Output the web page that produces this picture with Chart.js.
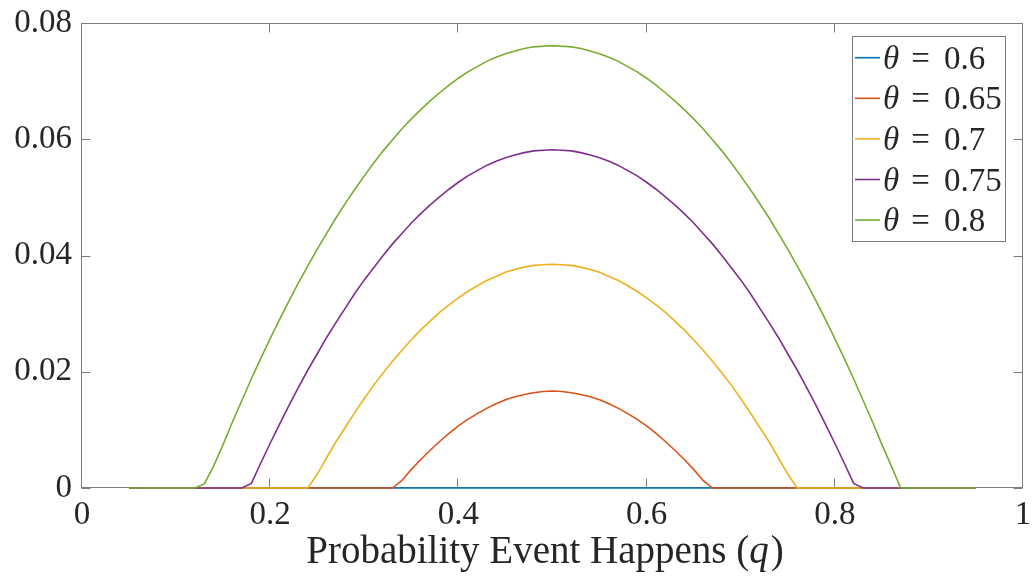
<!DOCTYPE html>
<html>
<head>
<meta charset="utf-8">
<script src="https://cdn.jsdelivr.net/npm/chart.js@4"></script>
<style>
  html, body { margin: 0; padding: 0; background: #fff; }
  #wrap { width: 1034px; height: 585px; }
</style>
</head>
<body>
<div id="wrap"><canvas id="probChart" width="1034" height="585"></canvas></div>
<script>
// q grid (probability event happens)
const qValues = [
  0.05, 0.06, 0.07, 0.08, 0.09, 0.10, 0.11, 0.12, 0.13, 0.14,
  0.15, 0.16, 0.17, 0.18, 0.19, 0.20, 0.21, 0.22, 0.23, 0.24,
  0.25, 0.26, 0.27, 0.28, 0.29, 0.30, 0.31, 0.32, 0.33, 0.34,
  0.35, 0.36, 0.37, 0.38, 0.39, 0.40, 0.41, 0.42, 0.43, 0.44,
  0.45, 0.46, 0.47, 0.48, 0.49, 0.50, 0.51, 0.52, 0.53, 0.54,
  0.55, 0.56, 0.57, 0.58, 0.59, 0.60, 0.61, 0.62, 0.63, 0.64,
  0.65, 0.66, 0.67, 0.68, 0.69, 0.70, 0.71, 0.72, 0.73, 0.74,
  0.75, 0.76, 0.77, 0.78, 0.79, 0.80, 0.81, 0.82, 0.83, 0.84,
  0.85, 0.86, 0.87, 0.88, 0.89, 0.90, 0.91, 0.92, 0.93, 0.94,
  0.95
];

const theta060 = [
  0, 0, 0, 0, 0, 0, 0, 0, 0, 0,
  0, 0, 0, 0, 0, 0, 0, 0, 0, 0,
  0, 0, 0, 0, 0, 0, 0, 0, 0, 0,
  0, 0, 0, 0, 0, 0, 0, 0, 0, 0,
  0, 0, 0, 0, 0, 0, 0, 0, 0, 0,
  0, 0, 0, 0, 0, 0, 0, 0, 0, 0,
  0, 0, 0, 0, 0, 0, 0, 0, 0, 0,
  0, 0, 0, 0, 0, 0, 0, 0, 0, 0,
  0, 0, 0, 0, 0, 0, 0, 0, 0, 0,
  0
];

const theta065 = [
  0, 0, 0, 0, 0, 0, 0, 0, 0, 0,
  0, 0, 0, 0, 0, 0, 0, 0, 0, 0,
  0, 0, 0, 0, 0, 0, 0, 0, 0, 0.0013,
  0.0032, 0.0049, 0.0065, 0.0080, 0.0094, 0.0107, 0.0118, 0.0128, 0.0137, 0.0145,
  0.0152, 0.0157, 0.0161, 0.0164, 0.0166, 0.0167, 0.0166, 0.0164, 0.0161, 0.0157,
  0.0152, 0.0145, 0.0137, 0.0128, 0.0118, 0.0107, 0.0094, 0.0080, 0.0065, 0.0049,
  0.0032, 0.0013, 0, 0, 0, 0, 0, 0, 0, 0,
  0, 0, 0, 0, 0, 0, 0, 0, 0, 0,
  0, 0, 0, 0, 0, 0, 0, 0, 0, 0,
  0
];

const theta070 = [
  0, 0, 0, 0, 0, 0, 0, 0, 0, 0,
  0, 0, 0, 0, 0, 0, 0, 0, 0, 0,
  0.0024, 0.0052, 0.0080, 0.0105, 0.0130, 0.0154, 0.0177, 0.0198, 0.0218, 0.0237,
  0.0255, 0.0272, 0.0287, 0.0302, 0.0315, 0.0327, 0.0338, 0.0348, 0.0357, 0.0364,
  0.0371, 0.0376, 0.0380, 0.0383, 0.0384, 0.0385, 0.0384, 0.0383, 0.0380, 0.0376,
  0.0371, 0.0364, 0.0357, 0.0348, 0.0338, 0.0327, 0.0315, 0.0302, 0.0287, 0.0272,
  0.0255, 0.0237, 0.0218, 0.0198, 0.0177, 0.0154, 0.0130, 0.0105, 0.0080, 0.0052,
  0.0024, 0, 0, 0, 0, 0, 0, 0, 0, 0,
  0, 0, 0, 0, 0, 0, 0, 0, 0, 0,
  0
];

const theta075 = [
  0, 0, 0, 0, 0, 0, 0, 0, 0, 0,
  0, 0, 0, 0.0008, 0.0043, 0.0077, 0.0110, 0.0142, 0.0173, 0.0203,
  0.0231, 0.0259, 0.0285, 0.0310, 0.0335, 0.0358, 0.0379, 0.0400, 0.0420, 0.0438,
  0.0456, 0.0472, 0.0487, 0.0501, 0.0514, 0.0526, 0.0537, 0.0546, 0.0555, 0.0562,
  0.0568, 0.0573, 0.0577, 0.0580, 0.0581, 0.0582, 0.0581, 0.0580, 0.0577, 0.0573,
  0.0568, 0.0562, 0.0555, 0.0546, 0.0537, 0.0526, 0.0514, 0.0501, 0.0487, 0.0472,
  0.0456, 0.0438, 0.0420, 0.0400, 0.0379, 0.0358, 0.0335, 0.0310, 0.0285, 0.0259,
  0.0231, 0.0203, 0.0173, 0.0142, 0.0110, 0.0077, 0.0043, 0.0008, 0, 0,
  0, 0, 0, 0, 0, 0, 0, 0, 0, 0,
  0
];

const theta080 = [
  0, 0, 0, 0, 0, 0, 0, 0, 0.0007, 0.0038,
  0.0075, 0.0114, 0.0151, 0.0188, 0.0223, 0.0257, 0.0290, 0.0322, 0.0353, 0.0382,
  0.0411, 0.0438, 0.0465, 0.0490, 0.0514, 0.0537, 0.0559, 0.0580, 0.0599, 0.0618,
  0.0635, 0.0651, 0.0666, 0.0680, 0.0693, 0.0705, 0.0716, 0.0725, 0.0734, 0.0741,
  0.0747, 0.0752, 0.0756, 0.0759, 0.0760, 0.0761, 0.0760, 0.0759, 0.0756, 0.0752,
  0.0747, 0.0741, 0.0734, 0.0725, 0.0716, 0.0705, 0.0693, 0.0680, 0.0666, 0.0651,
  0.0635, 0.0618, 0.0599, 0.0580, 0.0559, 0.0537, 0.0514, 0.0490, 0.0465, 0.0438,
  0.0411, 0.0382, 0.0353, 0.0322, 0.0290, 0.0257, 0.0223, 0.0188, 0.0151, 0.0114,
  0.0075, 0.0038, 0, 0, 0, 0, 0, 0, 0, 0,
  0
];

const thetaLabels = ['0.6', '0.65', '0.7', '0.75', '0.8'];
const seriesValues = [theta060, theta065, theta070, theta075, theta080];
const lineColors = ['#0072BD', '#D95319', '#EDB120', '#7E2F8E', '#77AC30'];

const xTitle = 'Probability Event Happens (';
const xTitleVar = 'q';

const serif = "'Liberation Serif', 'DejaVu Serif', serif";
const axisGray = '#7a7a7a';
const textColor = '#262626';

// box, inward ticks on all four sides (drawn under the lines, like MATLAB)
const axesFrame = {
  id: 'axesFrame',
  beforeDatasetsDraw(chart) {
    const { ctx, chartArea: a, scales } = chart;
    const x0 = Math.round(a.left) - 0.5, x1 = Math.round(a.right) - 0.5;
    const y0 = Math.round(a.top) + 0.5, y1 = Math.round(a.bottom) - 0.5;
    const tick = 9;
    ctx.save();
    ctx.strokeStyle = axisGray;
    ctx.lineWidth = 1;
    ctx.beginPath();
    ctx.rect(x0, y0, x1 - x0, y1 - y0);
    scales.x.ticks.forEach(t => {
      const px = Math.round(scales.x.getPixelForValue(t.value)) - 0.5;
      ctx.moveTo(px, y1); ctx.lineTo(px, y1 - tick);
      ctx.moveTo(px, y0); ctx.lineTo(px, y0 + tick);
    });
    scales.y.ticks.forEach(t => {
      const py = Math.round(scales.y.getPixelForValue(t.value)) + 0.5;
      ctx.moveTo(x0, py); ctx.lineTo(x0 + tick, py);
      ctx.moveTo(x1, py); ctx.lineTo(x1 - tick, py);
    });
    ctx.stroke();
    ctx.restore();
  },
  afterDraw(chart) {
    const { ctx } = chart;
    ctx.save();
    ctx.fillStyle = textColor;
    ctx.textBaseline = 'alphabetic';

    // x axis title, q in italics
    const up = '39px ' + serif, it = 'italic 39px ' + serif;
    ctx.font = up;
    const w1 = ctx.measureText(xTitle).width, w3 = ctx.measureText(')').width;
    ctx.font = it;
    const w2 = ctx.measureText(xTitleVar).width;
    let tx = 545 - (w1 + w2 + w3 + 2) / 2;
    const ty = 563;
    ctx.font = up; ctx.fillText(xTitle, tx, ty); tx += w1;
    ctx.font = it; ctx.fillText(xTitleVar, tx, ty); tx += w2 + 2;
    ctx.font = up; ctx.fillText(')', tx, ty);

    // legend box
    const bx = 852.5, by = 36.5, bw = 153, bh = 205;
    ctx.fillStyle = '#fff';
    ctx.fillRect(bx, by, bw, bh);
    ctx.strokeStyle = axisGray;
    ctx.lineWidth = 1;
    ctx.strokeRect(bx, by, bw, bh);

    chart.data.datasets.forEach((ds, i) => {
      const rowY = 57.7 + i * 40.6;
      ctx.strokeStyle = ds.borderColor;
      ctx.lineWidth = 1.6;
      ctx.beginPath();
      ctx.moveTo(855, rowY); ctx.lineTo(880, rowY);
      ctx.stroke();
      ctx.fillStyle = textColor;
      const base = rowY + 11;
      ctx.textAlign = 'left';
      ctx.font = 'italic 33px ' + serif;
      ctx.fillText('θ', 883, base);
      ctx.font = '33px ' + serif;
      ctx.textAlign = 'center';
      ctx.fillText('=', 920.5, base);
      ctx.textAlign = 'left';
      ctx.fillText(thetaLabels[i], 944, base);
    });
    ctx.restore();
  }
};

const ctx = document.getElementById('probChart');

new Chart(ctx, {
  type: 'line',
  data: {
    datasets: seriesValues.map((vals, i) => ({
      label: 'θ = ' + thetaLabels[i],
      data: qValues.map((q, j) => ({ x: q, y: vals[j] })),
      borderColor: lineColors[i],
      borderWidth: 1.6,
      pointRadius: 0,
      tension: 0,
      fill: false,
      clip: 6,
      order: seriesValues.length - 1 - i, // last theta drawn on top
    }))
  },
  options: {
    responsive: false,
    animation: false,
    devicePixelRatio: 1,
    layout: { padding: { left: 0, right: 11, top: 23, bottom: 0 } },
    scales: {
      x: {
        type: 'linear',
        min: 0,
        max: 1,
        ticks: {
          stepSize: 0.2,
          padding: 8,
          color: textColor,
          font: { family: serif, size: 33 },
          maxRotation: 0,
          callback: (v) => String(Math.round(v * 10) / 10),
        },
        grid: { display: false, drawTicks: false },
        border: { display: false },
        afterFit: (scale) => {
          scale.height = 97;
          scale.paddingLeft = 0;
          scale.paddingRight = 0;
        },
      },
      y: {
        type: 'linear',
        min: 0,
        max: 0.08,
        ticks: {
          stepSize: 0.02,
          padding: 10,
          color: textColor,
          font: { family: serif, size: 33 },
          callback: (v) => String(Math.round(v * 100) / 100),
        },
        grid: { display: false, drawTicks: false },
        border: { display: false },
        afterFit: (scale) => {
          scale.width = 82;
          scale.paddingTop = 0;
          scale.paddingBottom = 0;
        },
      },
    },
    plugins: {
      legend: { display: false },
      tooltip: { enabled: false },
    },
  },
  plugins: [axesFrame],
});
</script>
</body>
</html>
